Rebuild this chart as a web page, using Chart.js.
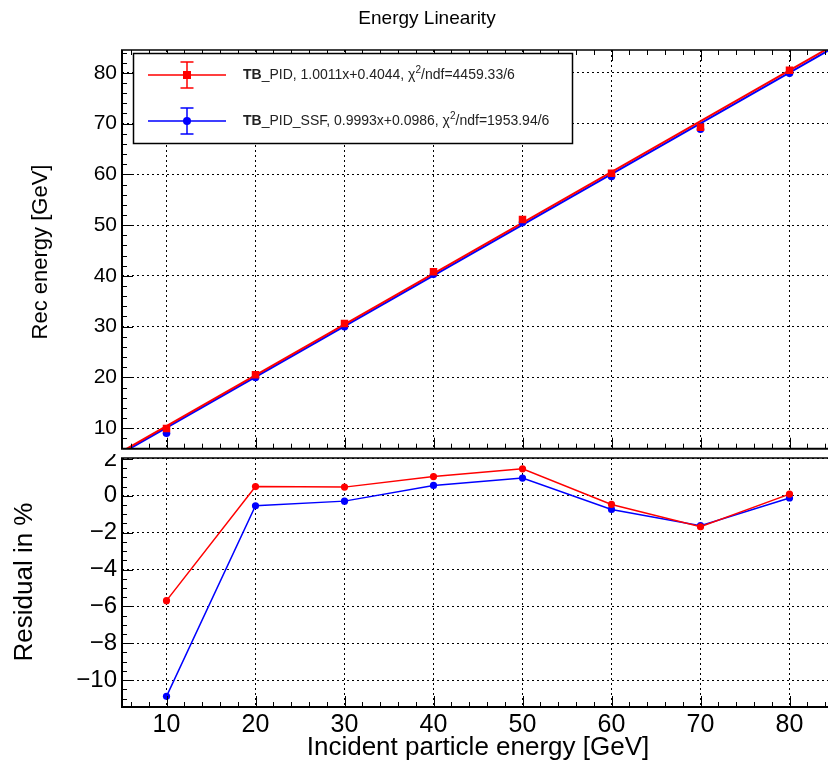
<!DOCTYPE html>
<html>
<head>
<meta charset="utf-8">
<title>Energy Linearity</title>
<script src="https://cdn.jsdelivr.net/npm/chart.js@4.4.1/dist/chart.umd.min.js"></script>
<style>
  html, body { margin: 0; padding: 0; background: #fff; overflow: hidden; }
  #wrap { position: relative; width: 828px; height: 766px; overflow: hidden; background: #fff; }
  #wrap canvas { position: absolute; left: 0; }
  #topCanvas { top: 0; }
  #botCanvas { top: 454px; }
  #title {
    position: absolute; left: 0; top: 7px; width: 854px; text-align: center;
    font: 19px "Liberation Sans", Arial, sans-serif; color: #000;
  }
</style>
</head>
<body>
<div id="wrap">
  <canvas id="topCanvas" width="840" height="454"></canvas>
  <canvas id="botCanvas" width="840" height="312"></canvas>
  <div id="title">Energy Linearity</div>
</div>
<script>
// Beam energies and reconstructed energies per reconstruction
const energies = [10, 20, 30, 40, 50, 60, 70, 80];
const recPID = [9.95, 20.5, 30.6, 40.8, 51.1, 60.2, 69.3, 80.5];
const recSSF = [9.0, 20.0, 30.0, 40.3, 50.5, 59.6, 68.9, 79.9];

// Residuals with respect to the linear fit, in percent
const resPID = [-5.69, 0.50, 0.47, 1.04, 1.46, -0.47, -1.68, 0.09];
const resSSF = [-10.88, -0.54, -0.29, 0.56, 0.96, -0.74, -1.62, -0.12];

// Linear fit results
const seriesNames = ['TB_PID', 'TB_PID_SSF'];
const fitSlope = [1.0011, 0.9993];
const fitIntercept = [0.4044, 0.0986];
const fitChi2 = ['4459.33', '1953.94'];
const fitNdf = [6, 6];

// Axis ticks
const xTicks = [10, 20, 30, 40, 50, 60, 70, 80];
const recTicks = [10, 20, 30, 40, 50, 60, 70, 80];
const resTicks = [-10, -8, -6, -4, -2, 0, 2];

const RED = '#ff0000';
const BLUE = '#0000ff';
const FONT = '"Liberation Sans", Arial, sans-serif';

const X_MIN = 5, X_MAX = 85;

function pts(xs, ys) { return xs.map((x, i) => ({ x: x, y: ys[i] })); }
function fitLine(k) {
  return [X_MIN, X_MAX].map(x => ({ x: x, y: fitSlope[k] * x + fitIntercept[k] }));
}
function fmt(v) { return v < 0 ? '\u2212' + Math.abs(v) : String(v); }

// Inward ticks and solid frame, placed through the chart's own scales
const framePlugin = {
  id: 'frame',
  afterDraw(chart, args, o) {
    const ctx = chart.ctx, a = chart.chartArea;
    const xs = chart.scales.x, ys = chart.scales.y;
    ctx.save();
    ctx.strokeStyle = '#000';
    ctx.lineWidth = 1;
    ctx.beginPath();
    // x ticks on bottom (and top) edge
    for (let i = Math.ceil(X_MIN / 2); i * 2 <= X_MAX; i++) {
      const v = i * 2, px = Math.round(xs.getPixelForValue(v)) + 0.5;
      const len = v % 10 === 0 ? 11 : 5;
      ctx.moveTo(px, a.bottom); ctx.lineTo(px, a.bottom - len);
      if (o.topTicks) { ctx.moveTo(px, a.top); ctx.lineTo(px, a.top + len); }
    }
    // y ticks on the left edge
    const n0 = Math.ceil(ys.min / o.yMinor), n1 = Math.floor(ys.max / o.yMinor);
    for (let i = n0; i <= n1; i++) {
      const v = i * o.yMinor, py = Math.round(ys.getPixelForValue(v)) + 0.5;
      const major = Math.abs(v / o.yMajor - Math.round(v / o.yMajor)) < 1e-6;
      const len = major ? 11 : 5;
      ctx.moveTo(a.left, py); ctx.lineTo(a.left + len, py);
    }
    ctx.stroke();
    // frame
    ctx.lineWidth = 2;
    ctx.beginPath();
    ctx.moveTo(a.left, a.top); ctx.lineTo(a.left, a.bottom);
    ctx.moveTo(a.left - 1, a.bottom); ctx.lineTo(a.right + 2, a.bottom);
    ctx.stroke();
    ctx.lineWidth = 1.5;
    ctx.beginPath();
    ctx.moveTo(a.left - 1, a.top); ctx.lineTo(a.right + 2, a.top);
    ctx.stroke();
    ctx.restore();
  }
};

// Axis titles
const titlesPlugin = {
  id: 'axisTitles',
  afterDraw(chart, args, o) {
    const ctx = chart.ctx;
    ctx.save();
    ctx.fillStyle = '#000';
    ctx.textAlign = 'center';
    ctx.textBaseline = 'middle';
    (o.items || []).forEach(t => {
      ctx.save();
      ctx.font = t.size + 'px ' + FONT;
      ctx.translate(t.x, t.y);
      if (t.rotate) ctx.rotate(-Math.PI / 2);
      ctx.fillText(t.text, 0, 0);
      ctx.restore();
    });
    ctx.restore();
  }
};

// Legend box with error-bar style entries
const legendPlugin = {
  id: 'fitLegend',
  afterDraw(chart) {
    const ctx = chart.ctx;
    const box = { x: 133, y: 53, w: 439, h: 90 };
    ctx.save();
    ctx.fillStyle = '#fff';
    ctx.fillRect(box.x, box.y, box.w, box.h);
    ctx.strokeStyle = '#000';
    ctx.lineWidth = 1.5;
    ctx.strokeRect(box.x + 0.5, box.y + 0.5, box.w, box.h);
    const rowsY = [75, 121];
    const colors = [RED, BLUE];
    for (let k = 0; k < 2; k++) {
      const y = rowsY[k], c = colors[k], mx = 187;
      ctx.strokeStyle = c; ctx.fillStyle = c; ctx.lineWidth = 1.5;
      ctx.beginPath();
      ctx.moveTo(148, y); ctx.lineTo(226, y);
      ctx.moveTo(mx, y - 13); ctx.lineTo(mx, y + 13);
      ctx.moveTo(mx - 6.5, y - 13); ctx.lineTo(mx + 6.5, y - 13);
      ctx.moveTo(mx - 6.5, y + 13); ctx.lineTo(mx + 6.5, y + 13);
      ctx.stroke();
      if (k === 0) { ctx.fillRect(mx - 4, y - 4, 8, 8); }
      else { ctx.beginPath(); ctx.arc(mx, y, 4, 0, Math.PI * 2); ctx.fill(); }

      // label text: name, fit function, chi2/ndf
      const name = seriesNames[k];
      const head = name.slice(0, 2), rest = name.slice(2);
      const body = ', ' + fitSlope[k].toFixed(4) + 'x+' + fitIntercept[k].toFixed(4) + ', \u03c7';
      const tail = '/ndf=' + fitChi2[k] + '/' + fitNdf[k];
      let x = 243;
      ctx.fillStyle = '#222';
      ctx.textBaseline = 'middle';
      ctx.textAlign = 'left';
      ctx.font = 'bold 14px ' + FONT;
      ctx.fillText(head, x, y); x += ctx.measureText(head).width;
      ctx.font = '14px ' + FONT;
      ctx.fillText(rest + body, x, y); x += ctx.measureText(rest + body).width;
      ctx.font = '10px ' + FONT;
      ctx.fillText('2', x, y - 5); x += ctx.measureText('2').width;
      ctx.font = '14px ' + FONT;
      ctx.fillText(tail, x, y);
    }
    ctx.restore();
  }
};

function xScale(showLabels, heightPx) {
  return {
    type: 'linear', min: X_MIN, max: X_MAX,
    afterBuildTicks: s => { s.ticks = xTicks.map(v => ({ value: v })); },
    afterFit: s => { s.height = heightPx; s.paddingLeft = 0; s.paddingRight = 0; },
    ticks: {
      display: showLabels, color: '#000', padding: 3,
      font: { family: FONT, size: 25 }, maxRotation: 0, autoSkip: false,
      callback: v => fmt(v)
    },
    grid: { color: '#000', lineWidth: 1, drawTicks: false },
    border: { display: false, dash: [2, 3] }
  };
}

function yScale(min, max, tickList, fontSize) {
  return {
    type: 'linear', min: min, max: max,
    afterBuildTicks: s => { s.ticks = tickList.map(v => ({ value: v })); },
    afterFit: s => { s.width = 122; s.paddingTop = 0; s.paddingBottom = 0; },
    ticks: {
      color: '#000', padding: 5,
      font: { family: FONT, size: fontSize },
      callback: v => fmt(v)
    },
    grid: { color: '#000', lineWidth: 1, drawTicks: false },
    border: { display: false, dash: [2, 3] }
  };
}

const common = {
  responsive: false, animation: false, events: [],
  plugins: { legend: { display: false }, tooltip: { enabled: false } }
};

// Upper pad: reconstructed energy with linear fits
new Chart(document.getElementById('topCanvas'), {
  type: 'scatter',
  data: {
    datasets: [
      { data: fitLine(0), showLine: true, borderColor: RED, borderWidth: 2, pointRadius: 0, order: 2 },
      { data: fitLine(1), showLine: true, borderColor: BLUE, borderWidth: 2, pointRadius: 0, order: 3 },
      { data: pts(energies, recSSF), showLine: false, pointStyle: 'circle', pointRadius: 3.8,
        backgroundColor: BLUE, borderColor: BLUE, borderWidth: 0, order: 1 },
      { data: pts(energies, recPID), showLine: false, pointStyle: 'rect', pointRadius: 5.3,
        backgroundColor: RED, borderColor: RED, borderWidth: 0, order: 0 }
    ]
  },
  options: Object.assign({}, common, {
    layout: { padding: { top: 50, right: 6, left: 0, bottom: 0 } },
    scales: {
      x: xScale(false, 2),
      y: yScale(5.95, 84.5, recTicks, 21)
    },
    plugins: Object.assign({}, common.plugins, {
      frame: { topTicks: true, yMinor: 2, yMajor: 10 },
      axisTitles: { items: [{ text: 'Rec energy [GeV]', x: 41, y: 252, size: 22, rotate: true }] }
    })
  }),
  plugins: [framePlugin, titlesPlugin, legendPlugin]
});

// Lower pad: fit residuals
new Chart(document.getElementById('botCanvas'), {
  type: 'scatter',
  data: {
    datasets: [
      { data: pts(energies, resSSF), showLine: true, borderColor: BLUE, borderWidth: 1.5,
        pointRadius: 3.6, pointStyle: 'circle', backgroundColor: BLUE, pointBorderWidth: 0, order: 1 },
      { data: pts(energies, resPID), showLine: true, borderColor: RED, borderWidth: 1.5,
        pointRadius: 3.6, pointStyle: 'circle', backgroundColor: RED, pointBorderWidth: 0, order: 0 }
    ]
  },
  options: Object.assign({}, common, {
    layout: { padding: { top: 3, right: 6, left: 0, bottom: 0 } },
    scales: {
      x: xScale(true, 59),
      y: yScale(-11.46, 2.05, resTicks, 24)
    },
    plugins: Object.assign({}, common.plugins, {
      frame: { topTicks: false, yMinor: 0.5, yMajor: 2 },
      axisTitles: { items: [
        { text: 'Residual in %', x: 25, y: 128, size: 26, rotate: true },
        { text: 'Incident particle energy [GeV]', x: 478, y: 294, size: 26, rotate: false }
      ] }
    })
  }),
  plugins: [framePlugin, titlesPlugin]
});
</script>
</body>
</html>
